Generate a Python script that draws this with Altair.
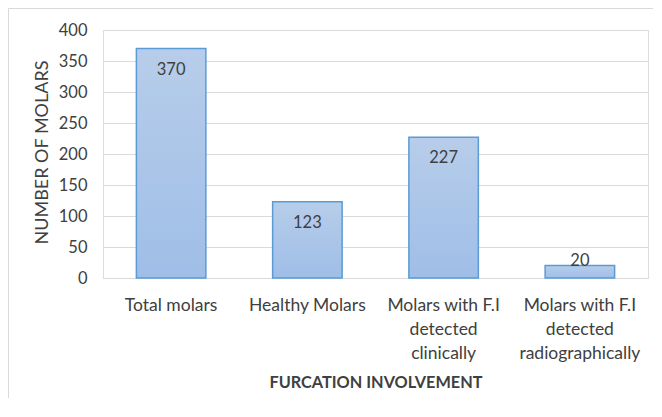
import altair as alt
import pandas as pd

categories = ["Total molars", "Healthy Molars",
              "Molars with F.I detected clinically",
              "Molars with F.I detected radiographically"]
values = [370, 123, 227, 20]
y_ticks = [0, 50, 100, 150, 200, 250, 300, 350, 400]

df = pd.DataFrame({"cat": categories, "val": values})

FONT = "Lato"
TXT = "#404040"

grad = alt.Gradient(
    gradient="linear",
    stops=[alt.GradientStop(color="#b7cdea", offset=0),
           alt.GradientStop(color="#9fbee7", offset=1)],
    x1=0, x2=0, y1=0, y2=1,
)

x_enc = alt.X(
    "cat:N", sort=categories,
    scale=alt.Scale(paddingInner=0.49, paddingOuter=0.245),
    axis=alt.Axis(
        title="FURCATION INVOLVEMENT",
        labelAngle=0,
        labelExpr="split(replace(datum.label, ' detected ', '|detected|'), '|')",
        labelLineHeight=24,
        labelFont=FONT, labelFontSize=17.5, labelColor=TXT,
        labelPadding=18, ticks=False, tickSize=0,
        domainColor="#d9d9d9", domainWidth=1,
        titleFont=FONT, titleFontSize=16.3, titleFontWeight="bold", titleColor=TXT,
        titleY=104, titleBaseline="middle",
    ),
)
y_enc = alt.Y(
    "val:Q",
    scale=alt.Scale(domain=[0, 400]),
    axis=alt.Axis(
        title="NUMBER OF MOLARS",
        values=y_ticks,
        labelOverlap=False,
        labelFont=FONT, labelFontSize=16.5, labelColor=TXT,
        labelPadding=16, ticks=False, tickSize=0, domain=False,
        gridColor="#d9d9d9", gridWidth=1,
        titleFont=FONT, titleFontSize=18, titleFontWeight="normal", titleColor=TXT,
        titleAngle=-90, titleX=-61, titleY=122,
        titleAlign="center", titleBaseline="middle",
    ),
)

base = alt.Chart(df)

bars = base.mark_bar(color=grad, stroke="#5b9bd5", strokeWidth=1.5).encode(
    x=x_enc, y=y_enc
)

labels_in = base.transform_filter("datum.val >= 50").mark_text(
    baseline="middle", dy=21, font=FONT, fontSize=16.5, color=TXT
).encode(x=x_enc, y=y_enc, text="val:Q")

labels_out = base.transform_filter("datum.val < 50").mark_text(
    baseline="alphabetic", dy=0, font=FONT, fontSize=16.5, color=TXT
).encode(x=x_enc, y=y_enc, text="val:Q")

one = pd.DataFrame({"k": [0]})
border_left = alt.Chart(one).mark_rule(color="#d9d9d9", strokeWidth=1, clip=False).encode(
    x=alt.value(-94.5), y=alt.value(-21.5), y2=alt.value(500),
)
border_top = alt.Chart(one).mark_rule(color="#d9d9d9", strokeWidth=1, clip=False).encode(
    x=alt.value(-94.5), x2=alt.value(700), y=alt.value(-21.5),
)

chart = alt.layer(border_left, border_top, bars, labels_in, labels_out).properties(
    width=545, height=248,
    autosize=alt.AutoSizeParams(type="none"),
    padding={"left": 95, "top": 22, "right": 5, "bottom": 120},
).configure_view(stroke=None).configure(background="white")

chart.save("out.html", embed_options={"renderer": "svg", "actions": False})
